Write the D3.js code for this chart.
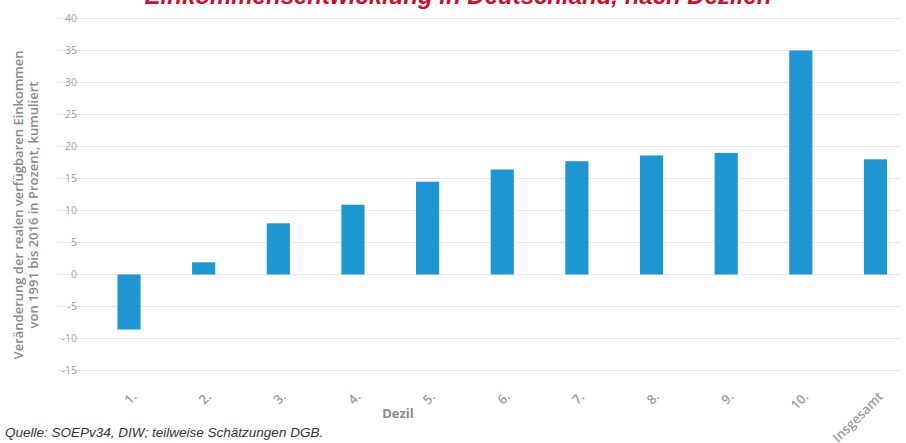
<!DOCTYPE html>
<head>
<meta charset="utf-8">
<title>Einkommensentwicklung nach Dezilen</title>
<script src="https://d3js.org/d3.v7.min.js"></script>
<style>
body{
	margin: 0;
	background: #fff;
}
</style>
</head>
<body>
<div id="chart"></div>
<script>

// data
var categories = ["1.", "2.", "3.", "4.", "5.", "6.", "7.", "8.", "9.", "10.", "Insgesamt"];
var values = [-8.6, 1.9, 8.0, 10.9, 14.5, 16.4, 17.7, 18.6, 19.0, 35.0, 18.0];
var yTicks = [-15, -10, -5, 0, 5, 10, 15, 20, 25, 30, 35, 40];

var width = 906, height = 443;

var svg = d3.select("#chart")
	.append("svg")
	.attr("width", width)
	.attr("height", height)
	.attr("font-family", "'Open Sans', sans-serif");

var x = d3.scaleBand()
	.domain(categories)
	.range([91.7, 912.8])
	.paddingInner(0.69)
	.paddingOuter(0.345);

var y = d3.scaleLinear()
	.domain([-15, 40])
	.range([370.5, 18.5]);

// gridlines
svg.append("g")
	.selectAll("line")
	.data(yTicks)
	.join("line")
	.attr("x1", 57)
	.attr("x2", 901)
	.attr("y1", d => y(d))
	.attr("y2", d => y(d))
	.attr("stroke", "#e8e8e8")
	.attr("stroke-width", 1);

// y tick labels
svg.append("g")
	.selectAll("text")
	.data(yTicks)
	.join("text")
	.attr("x", 77)
	.attr("y", d => y(d))
	.attr("dy", "0.35em")
	.attr("text-anchor", "end")
	.attr("font-size", 10.5)
	.attr("fill", "#a0a0a0")
	.text(d => d);

// bars
svg.append("g")
	.selectAll("rect")
	.data(values)
	.join("rect")
	.attr("x", (d, i) => x(categories[i]))
	.attr("width", x.bandwidth())
	.attr("y", d => y(Math.max(0, d)))
	.attr("height", d => Math.abs(y(d) - y(0)))
	.attr("fill", "#1e96d2");

// x tick labels, rotated
svg.append("g")
	.selectAll("text")
	.data(categories)
	.join("text")
	.attr("transform", d => "translate(" + (x(d) + x.bandwidth() / 2 + 2) + ",391) rotate(-45)")
	.attr("text-anchor", "end")
	.attr("dy", "0.7em")
	.attr("font-size", 13)
	.attr("font-weight", "600")
	.attr("fill", "#9a9a9a")
	.text(d => d);

// axis titles
svg.append("text")
	.attr("x", 398)
	.attr("y", 418)
	.attr("text-anchor", "middle")
	.attr("font-size", 13)
	.attr("font-weight", "bold")
	.attr("fill", "#8c8c8c")
	.text("Dezil");

var yTitle = svg.append("text")
	.attr("transform", "translate(0,205) rotate(-90)")
	.attr("text-anchor", "middle")
	.attr("font-size", 13)
	.attr("font-weight", "600")
	.attr("fill", "#8a8a8a");
yTitle.append("tspan").attr("x", 0).attr("y", 23).text("Veränderung der realen verfügbaren Einkommen");
yTitle.append("tspan").attr("x", 0).attr("y", 38).text("von 1991 bis 2016 in Prozent, kumuliert");

// title (cut off at the top, as in the source)
svg.append("text")
	.attr("x", 458)
	.attr("y", 4)
	.attr("text-anchor", "middle")
	.attr("font-family", "'Liberation Sans', Arial, sans-serif")
	.attr("font-size", 24)
	.attr("font-weight", "bold")
	.attr("font-style", "italic")
	.attr("fill", "#c8102e")
	.text("Einkommensentwicklung in Deutschland, nach Dezilen");

// source
svg.append("text")
	.attr("x", 5)
	.attr("y", 437)
	.attr("font-family", "'Liberation Sans', Arial, sans-serif")
	.attr("font-size", 13.5)
	.attr("font-style", "italic")
	.attr("fill", "#333")
	.text("Quelle: SOEPv34, DIW; teilweise Schätzungen DGB.");

</script>
</body>
</html>
